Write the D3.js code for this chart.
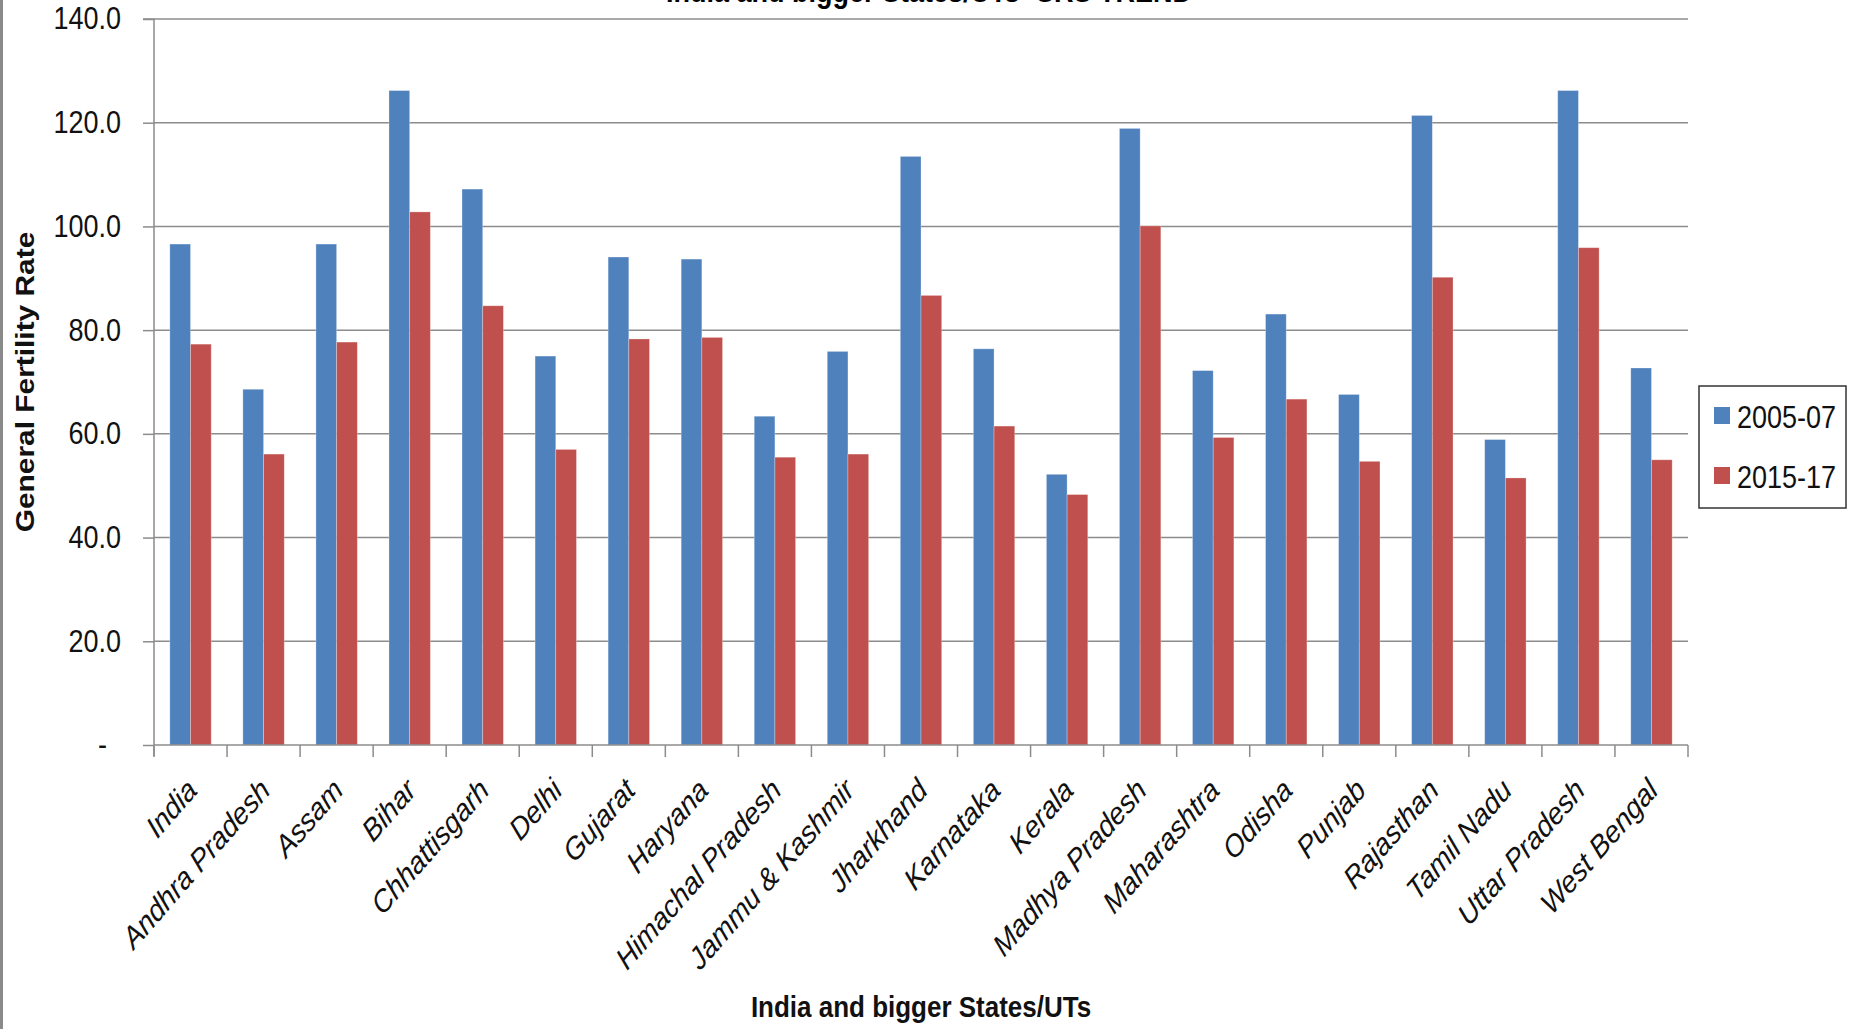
<!DOCTYPE html>
<html>
<head>
<meta charset="utf-8">
<script src="https://cdn.jsdelivr.net/npm/d3@7"></script>
<style>
  html, body { margin: 0; padding: 0; background: #ffffff; }
  svg { display: block; font-family: "Liberation Sans", Arial, sans-serif; }
</style>
</head>
<body>
<svg id="chart" width="1851" height="1029"></svg>
<script>
const categories = ["India","Andhra Pradesh","Assam","Bihar","Chhattisgarh","Delhi","Gujarat","Haryana","Himachal Pradesh","Jammu & Kashmir","Jharkhand","Karnataka","Kerala","Madhya Pradesh","Maharashtra","Odisha","Punjab","Rajasthan","Tamil Nadu","Uttar Pradesh","West Bengal"];
const seriesNames = ["2005-07", "2015-17"];
const gfr2005_07 = [96.6,68.6,96.6,126.2,107.2,75.0,94.1,93.7,63.4,75.9,113.5,76.4,52.2,118.9,72.2,83.1,67.6,121.4,58.9,126.2,72.7];
const gfr2015_17 = [77.3,56.1,77.7,102.8,84.7,57.0,78.3,78.6,55.5,56.1,86.7,61.5,48.3,100.1,59.3,66.7,54.7,90.2,51.5,95.9,55.0];
const yTicks = [0,20,40,60,80,100,120,140];
const colors = ["#4F81BD", "#C0504D"];
const titleText = "India and bigger States/UTs- SRS TREND";
const xTitle = "India and bigger States/UTs";
const yTitle = "General Fertility Rate";

(function() {
const svg = d3.select("#chart");
const mLeft = 154, mRight = 1688, mTop = 19, mBottom = 745;
const SY = 1.15; // vertical text stretch of the original picture

const x = d3.scaleBand().domain(categories).range([mLeft, mRight]).padding(0);
const xs = d3.scaleBand().domain(seriesNames).range([0, x.bandwidth()]).paddingInner(0).paddingOuter(0.765);
const y = d3.scaleLinear().domain([0, 140]).range([mBottom, mTop]);

// left frame border
svg.append("rect").attr("x", 0).attr("y", 0).attr("width", 3).attr("height", 1029).attr("fill", "#8a8a8a");

// title (mostly cut off at the top, as in the original)
svg.append("text").attr("transform", `translate(929,2) scale(1,${SY})`)
  .attr("text-anchor", "middle").attr("font-size", 27).attr("font-weight", "bold").attr("fill", "#000")
  .text(titleText);

// gridlines
svg.append("g").selectAll("line").data(yTicks.filter(d => d > 0)).join("line")
  .attr("x1", mLeft).attr("x2", mRight).attr("y1", d => y(d)).attr("y2", d => y(d))
  .attr("stroke", "#8c8c8c").attr("stroke-width", 1.5);

// bars
const series = [gfr2005_07, gfr2015_17];
const groups = svg.append("g").selectAll("g").data(series).join("g").attr("fill", (d, i) => colors[i]);
groups.each(function(vals, si) {
  d3.select(this).selectAll("rect").data(vals).join("rect")
    .attr("x", (v, i) => x(categories[i]) + xs(seriesNames[si]))
    .attr("width", xs.bandwidth())
    .attr("y", v => y(v))
    .attr("height", v => y(0) - y(v))
    .attr("stroke", "#ffffff").attr("stroke-opacity", 0.35).attr("stroke-width", 0.8);
});

// y axis
const yAxis = d3.axisLeft(y).tickValues(yTicks).tickSize(11).tickPadding(22)
  .tickFormat(d => d === 0 ? "-" : d.toFixed(1));
const gy = svg.append("g").attr("transform", `translate(${mLeft},0)`).call(yAxis);
gy.select(".domain").attr("stroke", "#8c8c8c").attr("stroke-width", 1.5).attr("d", `M-11,${mTop}H0V${mBottom + 11}`);
gy.selectAll(".tick line").attr("stroke", "#8c8c8c").attr("stroke-width", 1.5);
gy.selectAll(".tick text").attr("font-size", 27).attr("fill", "#111")
  .attr("font-family", "Liberation Sans, Arial, sans-serif")
  .attr("transform", `scale(1,${SY})`)
  .attr("dx", d => d === 0 ? -14 : 0);

// x axis line and boundary ticks
svg.append("line").attr("x1", mLeft).attr("x2", mRight).attr("y1", mBottom).attr("y2", mBottom)
  .attr("stroke", "#8c8c8c").attr("stroke-width", 1.5);
const bounds = categories.map(c => x(c)).concat([x(categories[categories.length - 1]) + x.bandwidth()]);
svg.append("g").selectAll("line").data(bounds).join("line")
  .attr("x1", d => d).attr("x2", d => d).attr("y1", mBottom).attr("y2", mBottom + 12)
  .attr("stroke", "#8c8c8c").attr("stroke-width", 1.5);

// category labels
svg.append("g").selectAll("text").data(categories).join("text")
  .attr("transform", c => `translate(${x(c) + x.bandwidth() / 2 + 8},${mBottom + 47}) scale(1,${SY}) rotate(-45)`)
  .attr("text-anchor", "end").attr("font-size", 27).attr("font-style", "italic").attr("fill", "#111")
  .text(c => c);

// axis titles
svg.append("text").attr("transform", `translate(${(mLeft + mRight) / 2},1017) scale(1,${SY})`)
  .attr("text-anchor", "middle").attr("font-size", 26).attr("font-weight", "bold").attr("fill", "#111")
  .text(xTitle);
svg.append("text").attr("transform", `translate(34,382) scale(1,${SY}) rotate(-90)`)
  .attr("text-anchor", "middle").attr("font-size", 26).attr("font-weight", "bold").attr("fill", "#111")
  .text(yTitle);

// legend
const lg = svg.append("g");
lg.append("rect").attr("x", 1699).attr("y", 386).attr("width", 147).attr("height", 122)
  .attr("fill", "#fff").attr("stroke", "#333").attr("stroke-width", 1.5);
const li = lg.selectAll("g").data(seriesNames).join("g")
  .attr("transform", (d, i) => `translate(1714,${407 + i * 60})`);
li.append("rect").attr("width", 16).attr("height", 17).attr("fill", (d, i) => colors[i]);
li.append("text").attr("transform", `translate(23,21) scale(1,${SY})`)
  .attr("font-size", 27).attr("fill", "#111").text(d => d);
})();
</script>
</body>
</html>
